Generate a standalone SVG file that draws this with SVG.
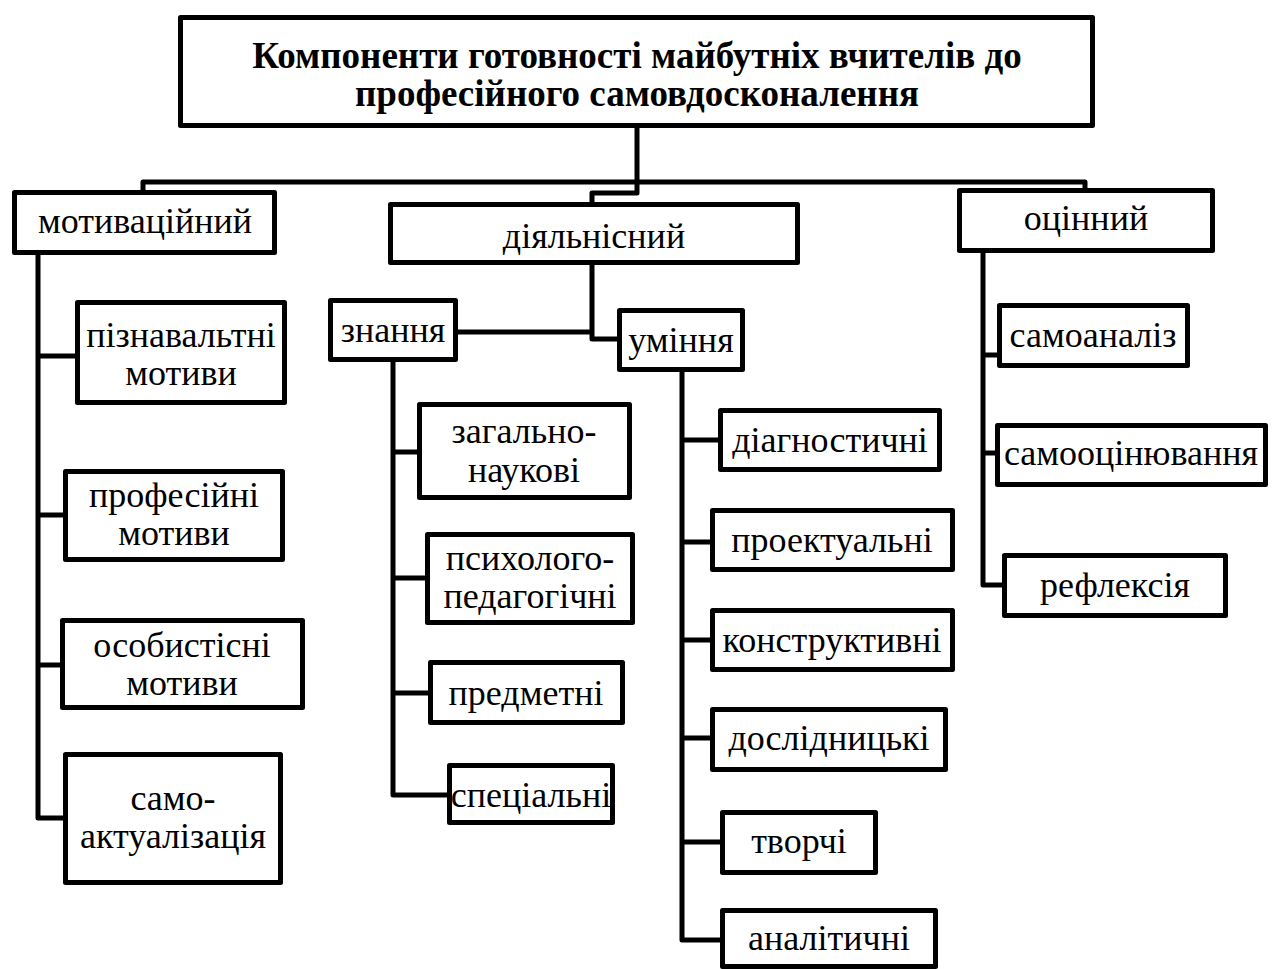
<svg xmlns="http://www.w3.org/2000/svg" width="1272" height="969" viewBox="0 0 1272 969">
<style>
.box{fill:#fff;stroke:#000;stroke-width:5;stroke-linejoin:round}
.ln{fill:none;stroke:#000;stroke-width:5;stroke-linejoin:round;stroke-linecap:round}
text{font-family:"Liberation Serif","Times New Roman",serif;font-size:36px;fill:#000;text-anchor:middle}
.title{font-weight:bold;font-size:37px}
</style>
<rect width="1272" height="969" fill="#fff"/>
<g id="connectors">
<path class="ln" d="M637,128 V193 H592 V202"/>
<path class="ln" d="M143,190 V182 H1085 V188"/>
<path class="ln" d="M38,255 V818 H63 M38,356 H75 M38,515 H63 M38,665 H60"/>
<path class="ln" d="M592,265 V339 H617 M458,332 H592"/>
<path class="ln" d="M393,362 V795 H447 M393,452 H417 M393,578 H425 M393,693 H428"/>
<path class="ln" d="M682,372 V940 H720 M682,440 H718 M682,542 H710 M682,640 H710 M682,738 H710 M682,842 H720"/>
<path class="ln" d="M983,253 V585 H1002 M983,355 H997 M983,453 H995"/>
</g>
<g id="title"><rect class="box" x="180.5" y="17.5" width="912" height="108"/>
<text class="title" x="637" y="68">Компоненти готовності майбутніх вчителів до</text>
<text class="title" x="637" y="106">професійного самовдосконалення</text></g>
<g id="motiv"><rect class="box" x="14.5" y="192.5" width="260" height="60"/><text x="145" y="233">мотиваційний</text></g>
<g id="diyal"><rect class="box" x="390.5" y="204.5" width="407" height="58"/><text x="594" y="248">діяльнісний</text></g>
<g id="otsin"><rect class="box" x="959.5" y="190.5" width="253" height="60"/><text x="1086" y="230">оцінний</text></g>
<g id="m1"><rect class="box" x="77.5" y="302.5" width="207" height="100"/><text x="181" y="347">пізнавальтні</text><text x="181" y="385">мотиви</text></g>
<g id="m2"><rect class="box" x="65.5" y="471.5" width="217" height="88"/><text x="174" y="507">професійні</text><text x="174" y="545">мотиви</text></g>
<g id="m3"><rect class="box" x="62.5" y="620.5" width="240" height="87"/><text x="182" y="657">особистісні</text><text x="182" y="695">мотиви</text></g>
<g id="m4"><rect class="box" x="65.5" y="754.5" width="215" height="128"/><text x="173" y="810">само-</text><text x="173" y="848">актуалізація</text></g>
<g id="znannya"><rect class="box" x="330.5" y="300.5" width="125" height="59"/><text x="393" y="342">знання</text></g>
<g id="uminnya"><rect class="box" x="619.5" y="310.5" width="123" height="59"/><text x="681" y="352">уміння</text></g>
<g id="z1"><rect class="box" x="419.5" y="404.5" width="210" height="93"/><text x="524" y="443">загально-</text><text x="524" y="482">наукові</text></g>
<g id="z2"><rect class="box" x="427.5" y="534.5" width="205" height="88"/><text x="530" y="570">психолого-</text><text x="530" y="608">педагогічні</text></g>
<g id="z3"><rect class="box" x="430.5" y="662.5" width="192" height="60"/><text x="526" y="705">предметні</text></g>
<g id="z4"><rect class="box" x="449.5" y="765.5" width="163" height="57"/><text x="531" y="807">спеціальні</text></g>
<g id="u1"><rect class="box" x="720.5" y="410.5" width="219" height="59"/><text x="830" y="452">діагностичні</text></g>
<g id="u2"><rect class="box" x="712.5" y="510.5" width="240" height="59"/><text x="832" y="552">проектуальні</text></g>
<g id="u3"><rect class="box" x="712.5" y="610.5" width="240" height="59"/><text x="832" y="652">конструктивні</text></g>
<g id="u4"><rect class="box" x="712.5" y="709.5" width="233" height="60"/><text x="829" y="750">дослідницькі</text></g>
<g id="u5"><rect class="box" x="722.5" y="812.5" width="153" height="60"/><text x="799" y="853">творчі</text></g>
<g id="u6"><rect class="box" x="722.5" y="910.5" width="213" height="56"/><text x="829" y="950">аналітичні</text></g>
<g id="o1"><rect class="box" x="999.5" y="305.5" width="188" height="60"/><text x="1093" y="347">самоаналіз</text></g>
<g id="o2"><rect class="box" x="997.5" y="425.5" width="268" height="59"/><text x="1131" y="465">самооцінювання</text></g>
<g id="o3"><rect class="box" x="1004.5" y="555.5" width="221" height="60"/><text x="1115" y="597">рефлексія</text></g>
</svg>
